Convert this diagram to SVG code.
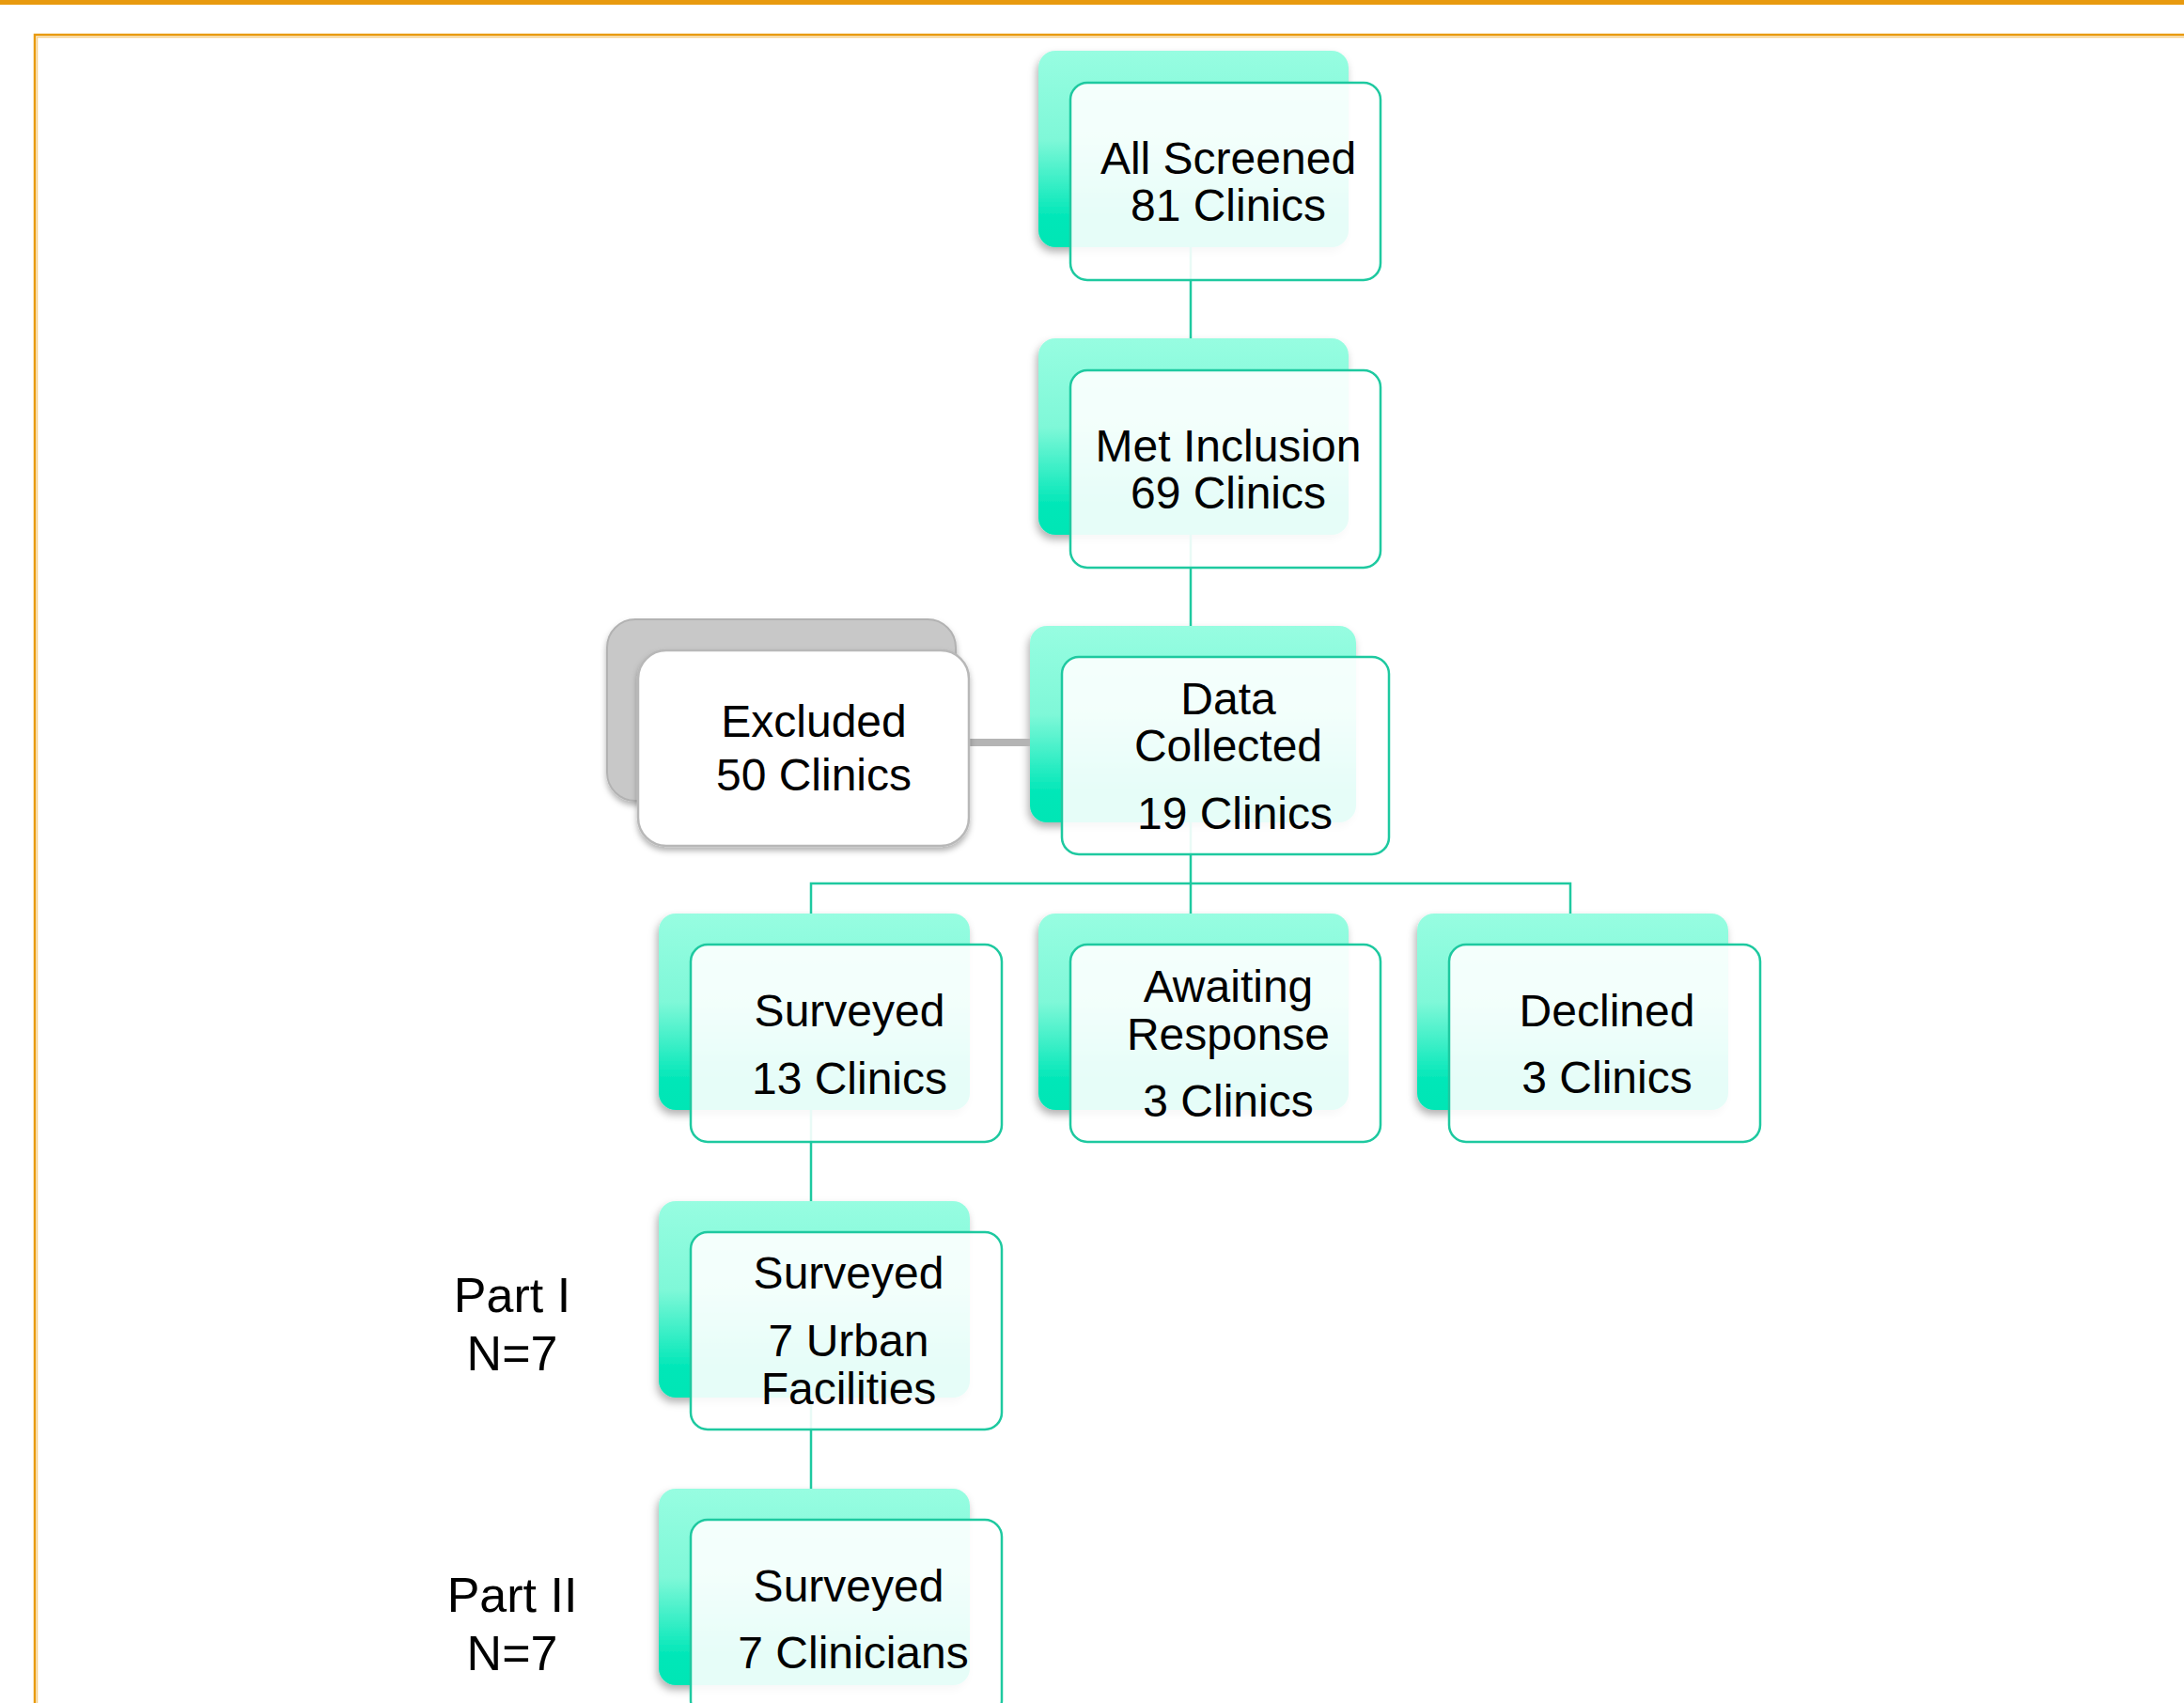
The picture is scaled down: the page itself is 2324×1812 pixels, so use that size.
<svg xmlns="http://www.w3.org/2000/svg" width="2324" height="1812" viewBox="0 0 2324 1812">
<defs>
<linearGradient id="g" x1="0" y1="0" x2="0" y2="1">
<stop offset="0" stop-color="#97fde1"/>
<stop offset="0.45" stop-color="#7ff8d8"/>
<stop offset="0.85" stop-color="#00e7b8"/>
<stop offset="1" stop-color="#00e6b5"/>
</linearGradient>
<filter id="sh" x="-10%" y="-10%" width="125%" height="130%">
<feDropShadow dx="-2" dy="5" stdDeviation="4" flood-color="#000" flood-opacity="0.3"/>
</filter>
<filter id="sh2" x="-10%" y="-10%" width="125%" height="130%">
<feDropShadow dx="0" dy="4" stdDeviation="3" flood-color="#000" flood-opacity="0.3"/>
</filter>
</defs>
<style>
.back{fill:url(#g);filter:url(#sh)}
.front{fill:#ffffff;fill-opacity:0.9;stroke:#1ec9a0;stroke-width:2.5}
.con{stroke:#1ec9a0;stroke-width:2.5;fill:none}
text{font-family:"Liberation Sans",Arial,sans-serif;font-size:48px;fill:#000;text-anchor:middle}
.lbl{font-size:52px}
</style>
<rect x="0" y="0" width="2324" height="1812" fill="#fff"/>
<rect x="0" y="0" width="2324" height="5" fill="#e89a0f"/>
<path d="M37,1812 V37 H2324" fill="none" stroke="#e89a0f" stroke-width="2.5"/>
<path d="M39.5,1812 V39.5 H2324" fill="none" stroke="#f6d08c" stroke-width="1.5"/>

<g id="back-layer">
<rect class="back" x="1105" y="54" width="330" height="209" rx="18"/>
<rect class="back" x="1105" y="360" width="330" height="209" rx="18"/>
<rect class="back" x="1096" y="666" width="347" height="209" rx="18"/>
<rect class="back" x="701" y="972" width="331" height="209" rx="18"/>
<rect class="back" x="1105" y="972" width="330" height="209" rx="18"/>
<rect class="back" x="1508" y="972" width="331" height="209" rx="18"/>
<rect class="back" x="701" y="1278" width="331" height="209" rx="18"/>
<rect class="back" x="701" y="1584" width="331" height="209" rx="18"/>
</g>

<g id="connectors">
<path class="con" d="M1267,263 V360"/>
<path class="con" d="M1267,569 V666"/>
<path class="con" d="M1267,875 V972"/>
<path class="con" d="M863,972 V940 H1671 V972"/>
<path class="con" d="M863,1181 V1278"/>
<path class="con" d="M863,1487 V1584"/>
<path d="M1031,790 H1096" stroke="#b4b4b4" stroke-width="8" fill="none"/>
</g>

<g id="excluded">
<rect x="646" y="659" width="371" height="193" rx="30" fill="#c8c8c8" stroke="#b2b2b2" stroke-width="2" filter="url(#sh2)"/>
<rect x="679" y="692" width="352" height="208" rx="30" fill="#fff" stroke="#b8b8b8" stroke-width="2.5" filter="url(#sh2)"/>
<text x="866" y="784">Excluded</text>
<text x="866" y="841">50 Clinics</text>
</g>

<g id="all-screened">
<rect class="front" x="1139" y="88" width="330" height="210" rx="18"/>
<text x="1307" y="185">All Screened</text>
<text x="1307" y="235">81 Clinics</text>
</g>

<g id="met-inclusion">
<rect class="front" x="1139" y="394" width="330" height="210" rx="18"/>
<text x="1307" y="491">Met Inclusion</text>
<text x="1307" y="541">69 Clinics</text>
</g>

<g id="data-collected">
<rect class="front" x="1130" y="699" width="348" height="210" rx="18"/>
<text x="1307" y="760">Data</text>
<text x="1307" y="810">Collected</text>
<text x="1314" y="882">19 Clinics</text>
</g>

<g id="surveyed-13">
<rect class="front" x="735" y="1005" width="331" height="210" rx="18"/>
<text x="904" y="1092">Surveyed</text>
<text x="904" y="1164">13 Clinics</text>
</g>

<g id="awaiting">
<rect class="front" x="1139" y="1005" width="330" height="210" rx="18"/>
<text x="1307" y="1066">Awaiting</text>
<text x="1307" y="1117">Response</text>
<text x="1307" y="1188">3 Clinics</text>
</g>

<g id="declined">
<rect class="front" x="1542" y="1005" width="331" height="210" rx="18"/>
<text x="1710" y="1092">Declined</text>
<text x="1710" y="1163">3 Clinics</text>
</g>

<g id="surveyed-urban">
<rect class="front" x="735" y="1311" width="331" height="210" rx="18"/>
<text x="903" y="1371">Surveyed</text>
<text x="903" y="1443">7 Urban</text>
<text x="903" y="1494">Facilities</text>
</g>

<g id="surveyed-clinicians">
<rect class="front" x="735" y="1617" width="331" height="210" rx="18"/>
<text x="903" y="1704">Surveyed</text>
<text x="908" y="1775">7 Clinicians</text>
</g>

<g id="part-labels">
<text class="lbl" x="545" y="1396">Part I</text>
<text class="lbl" x="545" y="1458">N=7</text>
<text class="lbl" x="545" y="1715">Part II</text>
<text class="lbl" x="545" y="1777">N=7</text>
</g>
</svg>
